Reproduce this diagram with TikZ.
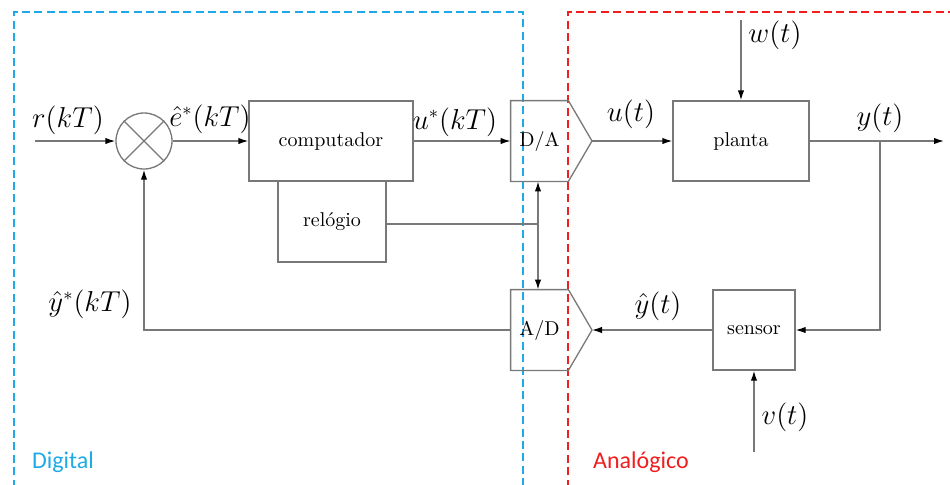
\documentclass[tikz,border=0pt]{standalone}
\usepackage{fontspec}
\newfontfamily\labelfont{Carlito}
\usetikzlibrary{arrows.meta}
\definecolor{wire}{RGB}{120,120,120}
\definecolor{digblue}{RGB}{30,170,230}
\definecolor{anared}{RGB}{240,30,30}
\begin{document}
\begin{tikzpicture}[x=0.5pt,y=-0.5pt,
  wirestyle/.style={draw=wire,line width=0.65pt},
  arr/.style={wirestyle,-{Latex[length=5pt,width=3.2pt,color=black]}},
  blockbox/.style={draw=wire,line width=0.65pt,minimum width=#1,minimum height=80*0.5pt,inner sep=0pt,font=\normalsize},
  sig/.style={font=\fontsize{13.4pt}{15pt}\selectfont,inner sep=0pt},
  zone/.style={line width=1.4pt,dash pattern=on 4pt off 2.2pt},
  zonelabel/.style={font=\labelfont\fontsize{12pt}{14pt}\selectfont,inner sep=0pt}]
  \clip (0,0) rectangle (950,484);

  % domain frames
  \draw[zone,digblue] (14,500) -- (14,12) -- (523,12) -- (523,500);
  \draw[zone,anared] (568,500) -- (568,12) -- (970,12);
  \node[zonelabel,text=digblue] (dlab) at (63,462) {Digital};
  \node[zonelabel,text=anared] (alab) at (641,462) {Analógico};

  % summing junction
  \node[circle,draw=wire,line width=0.65pt,minimum size=56*0.5pt,inner sep=0pt] (sum) at (144,141) {};
  \draw[wirestyle] (sum.north west) -- (sum.south east);
  \draw[wirestyle] (sum.north east) -- (sum.south west);

  % blocks
  \node[blockbox=164*0.5pt] (comp) at (331,141) {computador};
  \node[blockbox=108*0.5pt,minimum height=81*0.5pt] (relogio) at (332,221.5) {relógio};
  \node[blockbox=136*0.5pt] (planta) at (741,141) {planta};
  \node[blockbox=82*0.5pt] (sensor) at (754,330) {sensor};

  % converters: box with pointed right side
  \node[minimum width=57*0.5pt,minimum height=80*0.5pt,inner sep=0pt] (da) at (539.5,141) {D/A};
  \coordinate (datip) at (592,141);
  \draw[wirestyle] (da.north east) -- (da.north west) -- (da.south west) -- (da.south east) -- (datip) -- cycle;
  \node[minimum width=57*0.5pt,minimum height=80*0.5pt,inner sep=0pt] (ad) at (539.5,330) {A/D};
  \coordinate (adtip) at (592,330);
  \draw[wirestyle] (ad.north east) -- (ad.north west) -- (ad.south west) -- (ad.south east) -- (adtip) -- cycle;

  % free ends and branch points
  \coordinate (rin) at (35,141);
  \coordinate (yout) at (944,141);
  \coordinate (br) at (880,141);
  \coordinate (win) at (741,20);
  \coordinate (vin) at (754,452);
  \coordinate (clk) at (538,224);

  % signal paths
  \draw[arr] (rin) -- (sum.west);
  \draw[arr] (sum.east) -- (comp.west);
  \draw[arr] (comp.east) -- (da.west);
  \draw[arr] (datip) -- (planta.west);
  \draw[arr] (planta.east) -- (yout);
  \draw[arr] (win) -- (planta.north);
  \draw[arr] (br) -- (br |- sensor.east) -- (sensor.east);
  \draw[arr] (vin) -- (sensor.south);
  \draw[arr] (sensor.west) -- (adtip);
  \draw[arr] (ad.west) -- (ad.west -| sum.south) -- (sum.south);

  % sampling clock
  \draw[wirestyle] (relogio.east |- clk) -- (clk);
  \draw[arr] (clk) -- (da.south -| clk);
  \draw[arr] (clk) -- (ad.north -| clk);

  % signal labels
  \node[sig] (lr) at (68,120) {$r(kT)$};
  \node[sig] (le) at (210,119) {$\hat{e}^{*}(kT)$};
  \node[sig] (lu) at (455,122) {$u^{*}(kT)$};
  \node[sig] (lut) at (631,114) {$u(t)$};
  \node[sig] (ly) at (880,118) {$y(t)$};
  \node[sig] (lw) at (775,35) {$w(t)$};
  \node[sig] (lv) at (785,417) {$v(t)$};
  \node[sig] (lyh) at (658,306) {$\hat{y}(t)$};
  \node[sig] (lys) at (90,304) {$\hat{y}^{*}(kT)$};
\end{tikzpicture}
\end{document}
